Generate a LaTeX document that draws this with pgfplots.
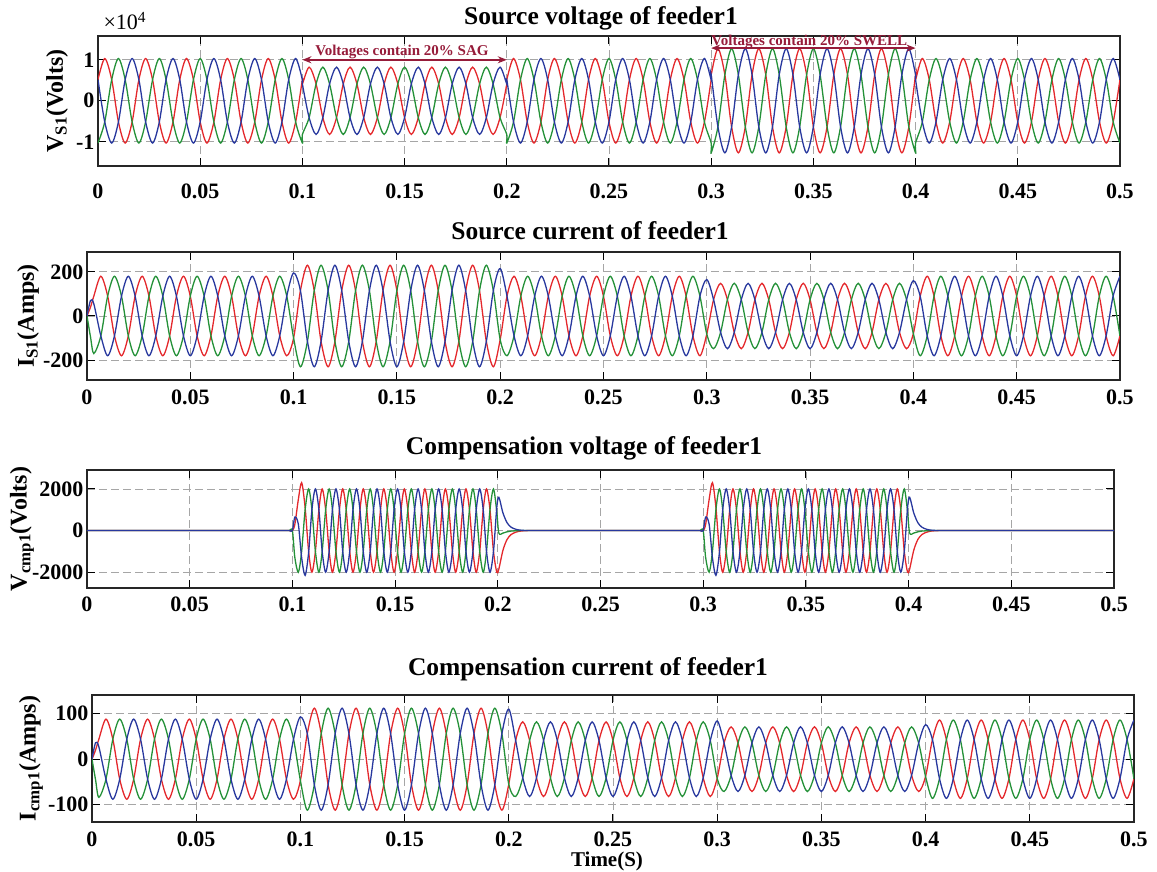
\documentclass[border=0pt]{standalone}
\usepackage{pgfplots}
\pgfplotsset{compat=1.18}
\usepackage{pgfplotstable}
\usepackage{fontspec}
\setmainfont{Liberation Serif}
\usetikzlibrary{arrows.meta}
\definecolor{cR}{RGB}{228,40,44}
\definecolor{cG}{RGB}{36,145,56}
\definecolor{cB}{RGB}{40,56,158}
\definecolor{mar}{RGB}{150,28,58}

% Source voltage of feeder1 (x 10^4 V)
\pgfplotstableread{
t r g b
0 0.515 -1.03 0.515
0.0033 1.03 -0.515 -0.515
0.0067 0.515 0.515 -1.03
0.01 -0.515 1.03 -0.515
0.0133 -1.03 0.515 0.515
0.0167 -0.515 -0.515 1.03
0.02 0.515 -1.03 0.515
0.0233 1.03 -0.515 -0.515
0.0267 0.515 0.515 -1.03
0.03 -0.515 1.03 -0.515
0.0333 -1.03 0.515 0.515
0.0367 -0.515 -0.515 1.03
0.04 0.515 -1.03 0.515
0.0433 1.03 -0.515 -0.515
0.0467 0.515 0.515 -1.03
0.05 -0.515 1.03 -0.515
0.0533 -1.03 0.515 0.515
0.0567 -0.515 -0.515 1.03
0.06 0.515 -1.03 0.515
0.0633 1.03 -0.515 -0.515
0.0667 0.515 0.515 -1.03
0.07 -0.515 1.03 -0.515
0.0733 -1.03 0.515 0.515
0.0767 -0.515 -0.515 1.03
0.08 0.515 -1.03 0.515
0.0833 1.03 -0.515 -0.515
0.0867 0.515 0.515 -1.03
0.09 -0.515 1.03 -0.515
0.0933 -1.03 0.515 0.515
0.0967 -0.515 -0.515 1.03
0.1 0.515 -1.03 0.515
0.1 0.41 -0.82 0.41
0.1033 0.82 -0.41 -0.41
0.1067 0.41 0.41 -0.82
0.11 -0.41 0.82 -0.41
0.1133 -0.82 0.41 0.41
0.1167 -0.41 -0.41 0.82
0.12 0.41 -0.82 0.41
0.1233 0.82 -0.41 -0.41
0.1267 0.41 0.41 -0.82
0.13 -0.41 0.82 -0.41
0.1333 -0.82 0.41 0.41
0.1367 -0.41 -0.41 0.82
0.14 0.41 -0.82 0.41
0.1433 0.82 -0.41 -0.41
0.1467 0.41 0.41 -0.82
0.15 -0.41 0.82 -0.41
0.1533 -0.82 0.41 0.41
0.1567 -0.41 -0.41 0.82
0.16 0.41 -0.82 0.41
0.1633 0.82 -0.41 -0.41
0.1667 0.41 0.41 -0.82
0.17 -0.41 0.82 -0.41
0.1733 -0.82 0.41 0.41
0.1767 -0.41 -0.41 0.82
0.18 0.41 -0.82 0.41
0.1833 0.82 -0.41 -0.41
0.1867 0.41 0.41 -0.82
0.19 -0.41 0.82 -0.41
0.1933 -0.82 0.41 0.41
0.1967 -0.41 -0.41 0.82
0.2 0.41 -0.82 0.41
0.2 0.515 -1.03 0.515
0.2033 1.03 -0.515 -0.515
0.2067 0.515 0.515 -1.03
0.21 -0.515 1.03 -0.515
0.2133 -1.03 0.515 0.515
0.2167 -0.515 -0.515 1.03
0.22 0.515 -1.03 0.515
0.2233 1.03 -0.515 -0.515
0.2267 0.515 0.515 -1.03
0.23 -0.515 1.03 -0.515
0.2333 -1.03 0.515 0.515
0.2367 -0.515 -0.515 1.03
0.24 0.515 -1.03 0.515
0.2433 1.03 -0.515 -0.515
0.2467 0.515 0.515 -1.03
0.25 -0.515 1.03 -0.515
0.2533 -1.03 0.515 0.515
0.2567 -0.515 -0.515 1.03
0.26 0.515 -1.03 0.515
0.2633 1.03 -0.515 -0.515
0.2667 0.515 0.515 -1.03
0.27 -0.515 1.03 -0.515
0.2733 -1.03 0.515 0.515
0.2767 -0.515 -0.515 1.03
0.28 0.515 -1.03 0.515
0.2833 1.03 -0.515 -0.515
0.2867 0.515 0.515 -1.03
0.29 -0.515 1.03 -0.515
0.2933 -1.03 0.515 0.515
0.2967 -0.515 -0.515 1.03
0.3 0.515 -1.03 0.515
0.3 0.635 -1.27 0.635
0.3033 1.27 -0.635 -0.635
0.3067 0.635 0.635 -1.27
0.31 -0.635 1.27 -0.635
0.3133 -1.27 0.635 0.635
0.3167 -0.635 -0.635 1.27
0.32 0.635 -1.27 0.635
0.3233 1.27 -0.635 -0.635
0.3267 0.635 0.635 -1.27
0.33 -0.635 1.27 -0.635
0.3333 -1.27 0.635 0.635
0.3367 -0.635 -0.635 1.27
0.34 0.635 -1.27 0.635
0.3433 1.27 -0.635 -0.635
0.3467 0.635 0.635 -1.27
0.35 -0.635 1.27 -0.635
0.3533 -1.27 0.635 0.635
0.3567 -0.635 -0.635 1.27
0.36 0.635 -1.27 0.635
0.3633 1.27 -0.635 -0.635
0.3667 0.635 0.635 -1.27
0.37 -0.635 1.27 -0.635
0.3733 -1.27 0.635 0.635
0.3767 -0.635 -0.635 1.27
0.38 0.635 -1.27 0.635
0.3833 1.27 -0.635 -0.635
0.3867 0.635 0.635 -1.27
0.39 -0.635 1.27 -0.635
0.3933 -1.27 0.635 0.635
0.3967 -0.635 -0.635 1.27
0.4 0.635 -1.27 0.635
0.4 0.515 -1.03 0.515
0.4033 1.03 -0.515 -0.515
0.4067 0.515 0.515 -1.03
0.41 -0.515 1.03 -0.515
0.4133 -1.03 0.515 0.515
0.4167 -0.515 -0.515 1.03
0.42 0.515 -1.03 0.515
0.4233 1.03 -0.515 -0.515
0.4267 0.515 0.515 -1.03
0.43 -0.515 1.03 -0.515
0.4333 -1.03 0.515 0.515
0.4367 -0.515 -0.515 1.03
0.44 0.515 -1.03 0.515
0.4433 1.03 -0.515 -0.515
0.4467 0.515 0.515 -1.03
0.45 -0.515 1.03 -0.515
0.4533 -1.03 0.515 0.515
0.4567 -0.515 -0.515 1.03
0.46 0.515 -1.03 0.515
0.4633 1.03 -0.515 -0.515
0.4667 0.515 0.515 -1.03
0.47 -0.515 1.03 -0.515
0.4733 -1.03 0.515 0.515
0.4767 -0.515 -0.515 1.03
0.48 0.515 -1.03 0.515
0.4833 1.03 -0.515 -0.515
0.4867 0.515 0.515 -1.03
0.49 -0.515 1.03 -0.515
0.4933 -1.03 0.515 0.515
0.4967 -0.515 -0.515 1.03
0.5 0.515 -1.03 0.515
}\tA

% Source current (ir ig ib) and compensation current (cr cg cb)
\pgfplotstableread{
t ir ig ib cr cg cb
0 0 0 0 0 0 0
0.0017 40 -95 70 20 -45 36
0.0033 90 -170 55 44 -84 27
0.0067 180 -90 -90 88 -44 -44
0.01 90 90 -180 44 44 -88
0.0133 -90 180 -90 -44 88 -44
0.0167 -180 90 90 -88 44 44
0.02 -90 -90 180 -44 -44 88
0.0233 90 -180 90 44 -88 44
0.0267 180 -90 -90 88 -44 -44
0.03 90 90 -180 44 44 -88
0.0333 -90 180 -90 -44 88 -44
0.0367 -180 90 90 -88 44 44
0.04 -90 -90 180 -44 -44 88
0.0433 90 -180 90 44 -88 44
0.0467 180 -90 -90 88 -44 -44
0.05 90 90 -180 44 44 -88
0.0533 -90 180 -90 -44 88 -44
0.0567 -180 90 90 -88 44 44
0.06 -90 -90 180 -44 -44 88
0.0633 90 -180 90 44 -88 44
0.0667 180 -90 -90 88 -44 -44
0.07 90 90 -180 44 44 -88
0.0733 -90 180 -90 -44 88 -44
0.0767 -180 90 90 -88 44 44
0.08 -90 -90 180 -44 -44 88
0.0833 90 -180 90 44 -88 44
0.0867 180 -90 -90 88 -44 -44
0.09 90 90 -180 44 44 -88
0.0933 -90 180 -90 -44 88 -44
0.0967 -180 90 90 -88 44 44
0.1 -100 -100 195 -47 -47 93
0.1033 115 -230 115 56 -112 56
0.1067 230 -115 -115 112 -56 -56
0.11 115 115 -230 56 56 -112
0.1133 -115 230 -115 -56 112 -56
0.1167 -230 115 115 -112 56 56
0.12 -115 -115 230 -56 -56 112
0.1233 115 -230 115 56 -112 56
0.1267 230 -115 -115 112 -56 -56
0.13 115 115 -230 56 56 -112
0.1333 -115 230 -115 -56 112 -56
0.1367 -230 115 115 -112 56 56
0.14 -115 -115 230 -56 -56 112
0.1433 115 -230 115 56 -112 56
0.1467 230 -115 -115 112 -56 -56
0.15 115 115 -230 56 56 -112
0.1533 -115 230 -115 -56 112 -56
0.1567 -230 115 115 -112 56 56
0.16 -115 -115 230 -56 -56 112
0.1633 115 -230 115 56 -112 56
0.1667 230 -115 -115 112 -56 -56
0.17 115 115 -230 56 56 -112
0.1733 -115 230 -115 -56 112 -56
0.1767 -230 115 115 -112 56 56
0.18 -115 -115 230 -56 -56 112
0.1833 115 -230 115 56 -112 56
0.1867 230 -115 -115 112 -56 -56
0.19 115 115 -230 56 56 -112
0.1933 -115 230 -115 -56 112 -56
0.1967 -230 115 115 -112 56 56
0.2 -107 -107 215 -55 -55 110
0.2033 90 -180 90 41 -82 41
0.2067 180 -90 -90 82 -41 -41
0.21 90 90 -180 41 41 -82
0.2133 -90 180 -90 -41 82 -41
0.2167 -180 90 90 -82 41 41
0.22 -90 -90 180 -41 -41 82
0.2233 90 -180 90 41 -82 41
0.2267 180 -90 -90 82 -41 -41
0.23 90 90 -180 41 41 -82
0.2333 -90 180 -90 -41 82 -41
0.2367 -180 90 90 -82 41 41
0.24 -90 -90 180 -41 -41 82
0.2433 90 -180 90 41 -82 41
0.2467 180 -90 -90 82 -41 -41
0.25 90 90 -180 41 41 -82
0.2533 -90 180 -90 -41 82 -41
0.2567 -180 90 90 -82 41 41
0.26 -90 -90 180 -41 -41 82
0.2633 90 -180 90 41 -82 41
0.2667 180 -90 -90 82 -41 -41
0.27 90 90 -180 41 41 -82
0.2733 -90 180 -90 -41 82 -41
0.2767 -180 90 90 -82 41 41
0.28 -90 -90 180 -41 -41 82
0.2833 90 -180 90 41 -82 41
0.2867 180 -90 -90 82 -41 -41
0.29 90 90 -180 41 41 -82
0.2933 -90 180 -90 -41 82 -41
0.2967 -180 90 90 -82 41 41
0.3 -82 -82 165 -42 -42 84
0.3033 74 -148 74 35.5 -71 35.5
0.3067 148 -74 -74 71 -35.5 -35.5
0.31 74 74 -148 35.5 35.5 -71
0.3133 -74 148 -74 -35.5 71 -35.5
0.3167 -148 74 74 -71 35.5 35.5
0.32 -74 -74 148 -35.5 -35.5 71
0.3233 74 -148 74 35.5 -71 35.5
0.3267 148 -74 -74 71 -35.5 -35.5
0.33 74 74 -148 35.5 35.5 -71
0.3333 -74 148 -74 -35.5 71 -35.5
0.3367 -148 74 74 -71 35.5 35.5
0.34 -74 -74 148 -35.5 -35.5 71
0.3433 74 -148 74 35.5 -71 35.5
0.3467 148 -74 -74 71 -35.5 -35.5
0.35 74 74 -148 35.5 35.5 -71
0.3533 -74 148 -74 -35.5 71 -35.5
0.3567 -148 74 74 -71 35.5 35.5
0.36 -74 -74 148 -35.5 -35.5 71
0.3633 74 -148 74 35.5 -71 35.5
0.3667 148 -74 -74 71 -35.5 -35.5
0.37 74 74 -148 35.5 35.5 -71
0.3733 -74 148 -74 -35.5 71 -35.5
0.3767 -148 74 74 -71 35.5 35.5
0.38 -74 -74 148 -35.5 -35.5 71
0.3833 74 -148 74 35.5 -71 35.5
0.3867 148 -74 -74 71 -35.5 -35.5
0.39 74 74 -148 35.5 35.5 -71
0.3933 -74 148 -74 -35.5 71 -35.5
0.3967 -148 74 74 -71 35.5 35.5
0.4 -80 -80 160 -38 -38 76
0.4033 90 -180 90 43 -86 43
0.4067 180 -90 -90 86 -43 -43
0.41 90 90 -180 43 43 -86
0.4133 -90 180 -90 -43 86 -43
0.4167 -180 90 90 -86 43 43
0.42 -90 -90 180 -43 -43 86
0.4233 90 -180 90 43 -86 43
0.4267 180 -90 -90 86 -43 -43
0.43 90 90 -180 43 43 -86
0.4333 -90 180 -90 -43 86 -43
0.4367 -180 90 90 -86 43 43
0.44 -90 -90 180 -43 -43 86
0.4433 90 -180 90 43 -86 43
0.4467 180 -90 -90 86 -43 -43
0.45 90 90 -180 43 43 -86
0.4533 -90 180 -90 -43 86 -43
0.4567 -180 90 90 -86 43 43
0.46 -90 -90 180 -43 -43 86
0.4633 90 -180 90 43 -86 43
0.4667 180 -90 -90 86 -43 -43
0.47 90 90 -180 43 43 -86
0.4733 -90 180 -90 -43 86 -43
0.4767 -180 90 90 -86 43 43
0.48 -90 -90 180 -43 -43 86
0.4833 90 -180 90 43 -86 43
0.4867 180 -90 -90 86 -43 -43
0.49 90 90 -180 43 43 -86
0.4933 -90 180 -90 -43 86 -43
0.4967 -180 90 90 -86 43 43
0.5 -90 -90 180 -43 -43 86
}\tB

% Compensation voltage of feeder1
\pgfplotstableread{
t r g b
0 0 0 0
0.06 0 0 0
0.085 0 0 0
0.095 0 0 0
0.0985 0 0 0
0.1 0 0 0
0.1012 300 -1300 650
0.1029 1500 -2000 300
0.1045 2300 -1000 -1300
0.1062 1100 1000 -2150
0.1079 -1000 2000 -1050
0.1095 -2000 1000 1000
0.1112 -1000 -1000 2000
0.1129 1000 -2000 1000
0.1145 2000 -1000 -1000
0.1162 1000 1000 -2000
0.1179 -1000 2000 -1000
0.1195 -2000 1000 1000
0.1212 -1000 -1000 2000
0.1229 1000 -2000 1000
0.1245 2000 -1000 -1000
0.1262 1000 1000 -2000
0.1279 -1000 2000 -1000
0.1295 -2000 1000 1000
0.1312 -1000 -1000 2000
0.1329 1000 -2000 1000
0.1345 2000 -1000 -1000
0.1362 1000 1000 -2000
0.1379 -1000 2000 -1000
0.1395 -2000 1000 1000
0.1412 -1000 -1000 2000
0.1429 1000 -2000 1000
0.1445 2000 -1000 -1000
0.1462 1000 1000 -2000
0.1479 -1000 2000 -1000
0.1495 -2000 1000 1000
0.1512 -1000 -1000 2000
0.1529 1000 -2000 1000
0.1545 2000 -1000 -1000
0.1562 1000 1000 -2000
0.1579 -1000 2000 -1000
0.1595 -2000 1000 1000
0.1612 -1000 -1000 2000
0.1629 1000 -2000 1000
0.1645 2000 -1000 -1000
0.1662 1000 1000 -2000
0.1679 -1000 2000 -1000
0.1695 -2000 1000 1000
0.1712 -1000 -1000 2000
0.1729 1000 -2000 1000
0.1745 2000 -1000 -1000
0.1762 1000 1000 -2000
0.1779 -1000 2000 -1000
0.1795 -2000 1000 1000
0.1812 -1000 -1000 2000
0.1829 1000 -2000 1000
0.1845 2000 -1000 -1000
0.1862 1000 1000 -2000
0.1879 -1000 2000 -1000
0.1895 -2000 1000 1000
0.1912 -1000 -1000 2000
0.1929 1000 -2000 1000
0.1945 2000 -1000 -1000
0.1962 1000 1000 -2000
0.1979 -1000 2000 -1000
0.1995 -2000 900 1100
0.2005 -1850 -120 1600
0.2025 -950 -120 850
0.2045 -430 -60 380
0.2065 -190 -25 160
0.209 -70 -10 55
0.2115 -20 0 15
0.215 0 0 0
0.22 0 0 0
0.235 0 0 0
0.265 0 0 0
0.285 0 0 0
0.295 0 0 0
0.2985 0 0 0
0.3 0 0 0
0.3012 300 -1300 650
0.3029 1500 -2000 300
0.3045 2300 -1000 -1300
0.3062 1100 1000 -2150
0.3079 -1000 2000 -1050
0.3095 -2000 1000 1000
0.3112 -1000 -1000 2000
0.3129 1000 -2000 1000
0.3145 2000 -1000 -1000
0.3162 1000 1000 -2000
0.3179 -1000 2000 -1000
0.3195 -2000 1000 1000
0.3212 -1000 -1000 2000
0.3229 1000 -2000 1000
0.3245 2000 -1000 -1000
0.3262 1000 1000 -2000
0.3279 -1000 2000 -1000
0.3295 -2000 1000 1000
0.3312 -1000 -1000 2000
0.3329 1000 -2000 1000
0.3345 2000 -1000 -1000
0.3362 1000 1000 -2000
0.3379 -1000 2000 -1000
0.3395 -2000 1000 1000
0.3412 -1000 -1000 2000
0.3429 1000 -2000 1000
0.3445 2000 -1000 -1000
0.3462 1000 1000 -2000
0.3479 -1000 2000 -1000
0.3495 -2000 1000 1000
0.3512 -1000 -1000 2000
0.3529 1000 -2000 1000
0.3545 2000 -1000 -1000
0.3562 1000 1000 -2000
0.3579 -1000 2000 -1000
0.3595 -2000 1000 1000
0.3612 -1000 -1000 2000
0.3629 1000 -2000 1000
0.3645 2000 -1000 -1000
0.3662 1000 1000 -2000
0.3679 -1000 2000 -1000
0.3695 -2000 1000 1000
0.3712 -1000 -1000 2000
0.3729 1000 -2000 1000
0.3745 2000 -1000 -1000
0.3762 1000 1000 -2000
0.3779 -1000 2000 -1000
0.3795 -2000 1000 1000
0.3812 -1000 -1000 2000
0.3829 1000 -2000 1000
0.3845 2000 -1000 -1000
0.3862 1000 1000 -2000
0.3879 -1000 2000 -1000
0.3895 -2000 1000 1000
0.3912 -1000 -1000 2000
0.3929 1000 -2000 1000
0.3945 2000 -1000 -1000
0.3962 1000 1000 -2000
0.3979 -1000 2000 -1000
0.3995 -2000 900 1100
0.4005 -1850 -120 1600
0.4025 -950 -120 850
0.4045 -430 -60 380
0.4065 -190 -25 160
0.409 -70 -10 55
0.4115 -20 0 15
0.415 0 0 0
0.42 0 0 0
0.44 0 0 0
0.47 0 0 0
0.5 0 0 0
}\tC

\pgfplotsset{panel/.style={
  scale only axis, clip mode=individual,
  xmin=0, xmax=0.5,
  xtick={0,0.05,0.1,0.15,0.2,0.25,0.3,0.35,0.4,0.45,0.5},
  xticklabels={0,0.05,0.1,0.15,0.2,0.25,0.3,0.35,0.4,0.45,0.5},
  tick label style={font=\fontsize{22}{22}\selectfont\bfseries},
  xticklabel style={yshift=-5pt},
  major tick length=8pt,
  tick style={black, line width=1pt},
  grid=major,
  major grid style={black!35, dash pattern=on 8pt off 4pt, line width=0.8pt},
  axis line style={black!85, line width=1.2pt},
  every axis y label/.style={at={(axis description cs:-0.04,0.5)}, rotate=90, anchor=center, font=\fontsize{24}{24}\selectfont\bfseries},
  every axis plot/.append style={line width=1.3pt, no marks},
}}

\begin{document}
\begin{tikzpicture}[x=1pt,y=1pt]
\useasboundingbox (0pt,0pt) rectangle (1157pt,871pt);

% Panel 1
\begin{axis}[panel, at={(98pt,705pt)}, anchor=south west, width=1022pt, height=130pt,
  ymin=-1.59, ymax=1.58, ytick={-1,0,1}, yticklabels={-1,0,1},
  xticklabel style={yshift=-9pt},
  ylabel={V\textsubscript{S1}(Volts)}]
\addplot[cR, smooth] table[x=t,y=r]{\tA};
\addplot[cG, smooth] table[x=t,y=g]{\tA};
\addplot[cB, smooth] table[x=t,y=b]{\tA};
\draw[mar, line width=1.5pt, {Stealth[length=9pt,width=7pt]}-{Stealth[length=9pt,width=7pt]}] (axis cs:0.1,1) -- (axis cs:0.2,1);
\node[mar, anchor=base, font=\fontsize{15}{15}\selectfont\bfseries, yshift=4pt] at (axis cs:0.1487,1) {Voltages contain 20\% SAG};
\draw[mar, line width=1.5pt, {Stealth[length=9pt,width=7pt]}-{Stealth[length=9pt,width=7pt]}] (axis cs:0.3,1.285) -- (axis cs:0.4,1.285);
\node[mar, anchor=base, font=\fontsize{15}{15}\selectfont\bfseries, yshift=3pt] at (axis cs:0.348,1.285) {Voltages contain 20\% SWELL};
\end{axis}

% Panel 2
\begin{axis}[panel, at={(87pt,491pt)}, anchor=south west, width=1033pt, height=128pt,
  ymin=-290, ymax=290, ytick={-200,0,200}, yticklabels={-200,0,200},
  xticklabel style={yshift=-1pt},
  ylabel={I\textsubscript{S1}(Amps)}, ylabel style={at={(axis description cs:-0.0571,0.5)}}]
\addplot[cR, smooth] table[x=t,y=ir]{\tB};
\addplot[cG, smooth] table[x=t,y=ig]{\tB};
\addplot[cB, smooth] table[x=t,y=ib]{\tB};
\end{axis}

% Panel 3
\begin{axis}[panel, at={(87pt,283pt)}, anchor=south west, width=1027pt, height=118pt,
  ymin=-2760, ymax=2910, ytick={-2000,0,2000}, yticklabels={-2000,0,2000},
  ylabel={V\textsubscript{cmp1}(Volts)}, ylabel style={at={(axis description cs:-0.0633,0.5)}}]
\addplot[cR, smooth] table[x=t,y=r]{\tC};
\addplot[cG, smooth] table[x=t,y=g]{\tC};
\addplot[cB, smooth] table[x=t,y=b]{\tC};
\end{axis}

% Panel 4
\begin{axis}[panel, at={(92pt,49pt)}, anchor=south west, width=1042pt, height=127pt,
  ymin=-138, ymax=141, ytick={-100,0,100}, yticklabels={-100,0,100},
  xticklabel style={yshift=-1pt},
  ylabel={I\textsubscript{cmp1}(Amps)}, ylabel style={at={(axis description cs:-0.0585,0.5)}}]
\addplot[cR, smooth] table[x=t,y=cr]{\tB};
\addplot[cG, smooth] table[x=t,y=cg]{\tB};
\addplot[cB, smooth] table[x=t,y=cb]{\tB};
\end{axis}

\node[anchor=base, font=\fontsize{25.5}{25.5}\selectfont\bfseries] at (601pt,846pt) {Source voltage of feeder1};
\node[anchor=base, font=\fontsize{25.5}{25.5}\selectfont\bfseries] at (590pt,631pt) {Source current of feeder1};
\node[anchor=base, font=\fontsize{25.5}{25.5}\selectfont\bfseries] at (584pt,416pt) {Compensation voltage of feeder1};
\node[anchor=base, font=\fontsize{25.5}{25.5}\selectfont\bfseries] at (588pt,196pt) {Compensation current of feeder1};
\node[anchor=base, font=\fontsize{21}{21}\selectfont\bfseries] at (607pt,5pt) {Time(S)};
\node[anchor=base west, font=\fontsize{22}{22}\selectfont] at (100pt,841pt) {×10\textsuperscript{4}};
\end{tikzpicture}
\end{document}
